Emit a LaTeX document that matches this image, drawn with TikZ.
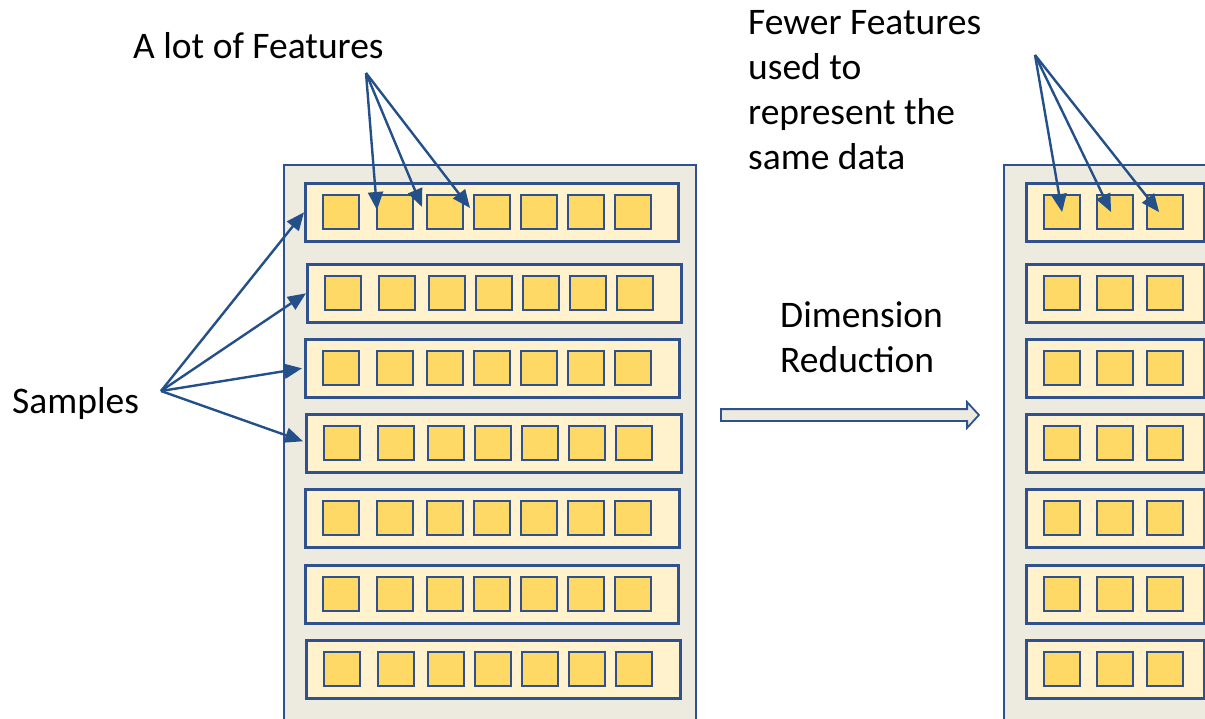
\documentclass[tikz,border=0pt]{standalone}
\usepackage{fontspec}
\setmainfont{Carlito}
\usetikzlibrary{arrows.meta,shapes.arrows}
\definecolor{edge}{HTML}{2F528F}
\definecolor{pointer}{HTML}{24508A}
\definecolor{panelfill}{HTML}{EDEBE0}
\definecolor{rowfill}{HTML}{FFF2CC}
\definecolor{cellfill}{HTML}{FFD966}
\tikzset{
  panel/.style={draw=edge, line width=2pt, fill=panelfill},
  rowbox/.style={draw=edge, line width=2.6pt, fill=rowfill, inner sep=0pt, anchor=north west},
  cell/.style={draw=edge, line width=2.2pt, fill=cellfill, inner sep=0pt, anchor=north west,
               minimum width=36pt, minimum height=34pt},
  label/.style={font=\fontsize{37.5}{45}\selectfont, inner sep=0pt, align=left, text=black},
  pointer/.style={draw=pointer, line width=2.4pt, -{Triangle[length=18pt,width=15pt]}},
  bigarrow/.style={single arrow, draw=edge, line width=1.8pt, fill=panelfill,
                   minimum height=258pt, inner xsep=0pt, inner ysep=5pt,
                   single arrow head extend=7pt, single arrow tip angle=95}
}
\begin{document}
\begin{tikzpicture}[x=1pt,y=-1pt]
\useasboundingbox (0,0) rectangle (1205,719);
\clip (0,0) rectangle (1205,719);

% two data tables
\draw[panel] (284,165) rectangle (696,740);
\draw[panel] (1004,165) rectangle (1230,740);

% original table: seven samples with seven features each
\foreach \rr/\ty/\lft/\rw in {1/182/304/373, 2/263/306/374, 3/338/304/374, 4/413/305/375,
                              5/488/304/374, 6/564/304/373, 7/639/305/374} {
  \node[rowbox, minimum width=\rw pt, minimum height=58pt] (L\rr) at (\lft,\ty) {};
  \foreach \cc/\dx in {1/18, 2/72, 3/122, 4/169, 5/216, 6/263, 7/310} {
    \node[cell] (L\rr c\cc) at (\lft+\dx,\ty+12) {};
  }
}

% reduced table: same samples, three features each
\foreach \rr/\ty in {1/182, 2/263, 3/338, 4/413, 5/488, 6/564, 7/639} {
  \node[rowbox, minimum width=178pt, minimum height=58pt] (R\rr) at (1025,\ty) {};
  \foreach \cc/\dx in {1/18, 2/71, 3/121} {
    \node[cell] (R\rr c\cc) at (1025+\dx,\ty+12) {};
  }
}

% labels
\node[label, anchor=base west] (feat) at (133,59) {A lot of Features};
\node[label, anchor=north west] (fewer) at (748,10) {Fewer Features\\used to\\represent the\\same data};
\node[label, anchor=north west] (dimred) at (780,301) {Dimension\\Reduction};
\node[label, anchor=base west] (samp) at (12,413) {Samples};

% pointer origins
\coordinate (featsrc) at (366,73);
\coordinate (fewersrc) at (1035,55);
\coordinate (sampsrc) at (161,391);

\draw[pointer] (featsrc) -- ([xshift=1pt,yshift=-16pt]L1c2.north west);
\draw[pointer] (featsrc) -- ([xshift=-4pt,yshift=-13pt]L1c3.north west);
\draw[pointer] (featsrc) -- ([xshift=-3pt,yshift=-14pt]L1c4.north west);

\draw[pointer] (fewersrc) -- (R1c1.center);
\draw[pointer] (fewersrc) -- ([xshift=-4pt]R1c2.center);
\draw[pointer] (fewersrc) -- ([xshift=-6pt]R1c3.center);

\draw[pointer] (sampsrc) -- (L1.west);
\draw[pointer] (sampsrc) -- (L2.west);
\draw[pointer] (sampsrc) -- ([xshift=-2pt]L3.west);
\draw[pointer] (sampsrc) -- ([xshift=-2pt,yshift=2pt]L4.west);

% dimension reduction block arrow
\node[bigarrow, anchor=west] (reduce) at (720,415) {};
\end{tikzpicture}
\end{document}
